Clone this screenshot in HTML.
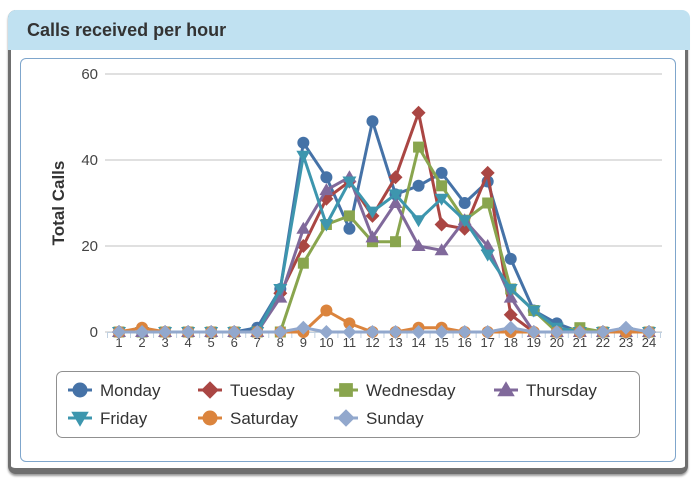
<!DOCTYPE html>
<html><head><meta charset="utf-8"><style>
body{margin:0;width:693px;height:483px;background:#fff;font-family:"Liberation Sans",sans-serif;overflow:hidden;position:relative}
#panel{position:absolute;left:8px;top:10px;width:680px;height:464px;border-radius:8px;background:#fff;border:3px solid #6f6f6f;border-top:none;border-bottom:6px solid #6f6f6f;box-sizing:border-box;box-shadow:0 2px 2px #999}
#hdr{position:absolute;left:8px;top:10px;width:682px;height:40px;background:#c0e1f1;border-radius:8px 8px 0 0}
#hdr span{position:absolute;left:19px;top:10px;font-size:18px;font-weight:bold;color:#333}
#inner{position:absolute;left:20px;top:58px;width:656px;height:404px;border:1px solid #7fa6cc;border-radius:6px;box-sizing:border-box}
svg{position:absolute;left:0;top:0}
</style></head><body>
<div id="panel"></div>
<div id="hdr"><span>Calls received per hour</span></div>
<div id="inner"></div>
<svg id="chart" width="693" height="483"></svg>
<script>
const hours=[1,2,3,4,5,6,7,8,9,10,11,12,13,14,15,16,17,18,19,20,21,22,23,24];
const yTicks=[0,20,40,60];
const seriesNames=["Monday","Tuesday","Wednesday","Thursday","Friday","Saturday","Sunday"];
const monday=[0,0,0,0,0,0,1,10,44,36,24,49,32,34,37,30,35,17,5,2,0,0,0,0];
const tuesday=[0,0,0,0,0,0,0,9,20,31,35,27,36,51,25,24,37,4,0,0,0,0,0,0];
const wednesday=[0,0,0,0,0,0,0,0,16,25,27,21,21,43,34,26,30,10,5,0,1,0,0,0];
const thursday=[0,0,0,0,0,0,0,8,24,33,36,22,30,20,19,26,20,8,0,0,0,0,0,0];
const friday=[0,0,0,0,0,0,0,10,41,25,35,28,32,26,31,26,18,10,5,1,0,0,0,0];
const saturday=[0,1,0,0,0,0,0,0,0,5,2,0,0,1,1,0,0,0,0,0,0,0,0,0];
const sunday=[0,0,0,0,0,0,0,0,1,0,0,0,0,0,0,0,0,1,0,0,0,0,1,0];
const seriesData=[monday,tuesday,wednesday,thursday,friday,saturday,sunday];
const colors=["#4572a7","#aa4643","#89a54e","#80699b","#3d96ae","#db843d","#92a8cd"];
const shapes=["circle","diamond","square","triangle","tridown","circle","diamond"];
const NS="http://www.w3.org/2000/svg";
const svg=document.getElementById('chart');
const x=h=>119+(h-1)*(530/23);
const y=v=>332-v*(258/60);
function el(t,a,p){const e=document.createElementNS(NS,t);for(const k in a)e.setAttribute(k,a[k]);(p||svg).appendChild(e);return e;}
function marker(shape,cx,cy,c,g,s){
  s=s||1;let e;
  if(shape=="circle")e=el('circle',{cx:cx,cy:cy,r:6*s,fill:c},g);
  else if(shape=="square")e=el('rect',{x:cx-5.5*s,y:cy-5.5*s,width:11*s,height:11*s,fill:c},g);
  else if(shape=="diamond")e=el('polygon',{points:`${cx},${cy-7*s} ${cx+7*s},${cy} ${cx},${cy+7*s} ${cx-7*s},${cy}`,fill:c},g);
  else if(shape=="triangle")e=el('polygon',{points:`${cx},${cy-7*s} ${cx+7*s},${cy+5*s} ${cx-7*s},${cy+5*s}`,fill:c},g);
  else e=el('polygon',{points:`${cx-7*s},${cy-5*s} ${cx+7*s},${cy-5*s} ${cx},${cy+7*s}`,fill:c},g);
  return e;
}
yTicks.forEach(t=>{
  const l=el('line',{x1:105,x2:662,y1:y(t),y2:y(t),stroke:'#c0c0c0','stroke-width':1});
  
  
  const tx=el('text',{x:98,y:y(t)+5,'text-anchor':'end','font-size':15,fill:'#444'});
  tx.textContent=t;
  
  
});
const ax=el('line',{x1:107,x2:662,y1:332.5,y2:332.5,stroke:'#c0d0e0','stroke-width':1});


hours.forEach(h=>{
  el('line',{x1:x(h)+11.5,x2:x(h)+11.5,y1:333,y2:338,stroke:'#c0d0e0'});
  const t=el('text',{x:x(h),y:347,'text-anchor':'middle','font-size':13,fill:'#444'});
  t.textContent=h;
  
  
});
el('line',{x1:107.5,x2:107.5,y1:333,y2:338,stroke:'#c0d0e0'});
const yt=el('text',{x:0,y:0,transform:'translate(64,203) rotate(-90)','text-anchor':'middle','font-size':17,'font-weight':'bold',fill:'#333'});
yt.textContent='Total Calls';


for(let s=0;s<seriesData.length;s++){
  const g=el('g',{});
  
  
  const pts=seriesData[s].map((v,i)=>x(hours[i])+','+y(v)).join(' ');
  el('polyline',{points:pts,fill:'none',stroke:colors[s],'stroke-width':3,'stroke-linejoin':'round'},g);
  seriesData[s].forEach((v,i)=>{
    const m=marker(shapes[s],x(hours[i]),y(v),colors[s],g);
    
    
  });
}
const lb=el('rect',{x:56.5,y:371.5,width:583,height:66,rx:6,fill:'#fff',stroke:'#909090'});


const lx=[80,210,346,506,80,210,346], ly=[390,390,390,390,418,418,418];
seriesNames.forEach((n,i)=>{
  const g=el('g',{});
  
  
  el('line',{x1:lx[i]-12,x2:lx[i]+12,y1:ly[i],y2:ly[i],stroke:colors[i],'stroke-width':3},g);
  marker(shapes[i],lx[i],ly[i],colors[i],g,1.25);
  const t=el('text',{x:lx[i]+20,y:ly[i]+6,'font-size':17,fill:'#333'},g);
  t.textContent=n;
});
</script>
</body></html>
